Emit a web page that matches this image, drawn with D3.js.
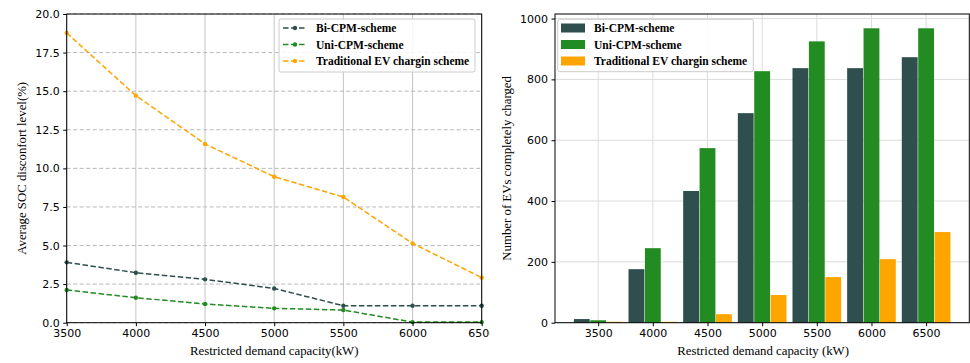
<!DOCTYPE html>
<html>
<head>
<meta charset="utf-8">
<script src="https://cdn.jsdelivr.net/npm/d3@7"></script>
<style>
  body { margin: 0; background: #fff; }
  .tick text { font-family: "DejaVu Sans", sans-serif; font-size: 11px; fill: #000; }
</style>
</head>
<body>
<svg id="chart" width="970" height="363"></svg>
<script>
// chart data
const capacities = [3500, 4000, 4500, 5000, 5500, 6000, 6500];
const seriesNames = ["Bi-CPM-scheme", "Uni-CPM-scheme", "Traditional EV chargin scheme"];
const colors = ["#2f4f4f", "#228b22", "#ffa500"];

// left: average SOC discomfort level (%)
const socBi = [3.91, 3.24, 2.81, 2.22, 1.10, 1.10, 1.10];
const socUni = [2.12, 1.62, 1.21, 0.93, 0.82, 0.04, 0.04];
const socTrad = [18.77, 14.71, 11.58, 9.46, 8.14, 5.14, 2.92];
const socTicks = [0, 2.5, 5, 7.5, 10, 12.5, 15, 17.5, 20];

// right: number of EVs completely charged
const evBi = [12, 176, 433, 689, 837, 837, 873];
const evUni = [8, 245, 574, 827, 925, 968, 968];
const evTrad = [3, 3, 28, 91, 150, 209, 298];
const evTicks = [0, 200, 400, 600, 800, 1000];

const svg = d3.select("#chart");

// ---------- left panel ----------
svg.append("clipPath").attr("id", "leftClip")
  .append("rect").attr("x", 0).attr("y", 0).attr("width", 490).attr("height", 363);

const left = svg.append("g").attr("clip-path", "url(#leftClip)");
const L = { x0: 66.7, x1: 481.7, y0: 14, y1: 322.7 };

const xL = d3.scaleLinear().domain([3500, 6500]).range([L.x0, L.x1]);
const yL = d3.scaleLinear().domain([0, 20]).range([L.y1, L.y0]);

// grid
left.append("g").selectAll("line").data(capacities).enter().append("line")
  .attr("x1", d => xL(d)).attr("x2", d => xL(d))
  .attr("y1", L.y0).attr("y2", L.y1)
  .attr("stroke", "#c4c4c4").attr("stroke-width", 1);
left.append("g").selectAll("line").data(socTicks).enter().append("line")
  .attr("x1", L.x0).attr("x2", L.x1)
  .attr("y1", d => yL(d)).attr("y2", d => yL(d))
  .attr("stroke", "#b8b8b8").attr("stroke-width", 1)
  .attr("stroke-dasharray", "4,2.5");

// lines
const socSeries = [socBi, socUni, socTrad];
const lineL = d3.line().x((d, i) => xL(capacities[i])).y(d => yL(d));
socSeries.forEach((vals, s) => {
  left.append("path").datum(vals)
    .attr("fill", "none")
    .attr("stroke", colors[s])
    .attr("stroke-width", 1.5)
    .attr("stroke-dasharray", "5.5,2.5")
    .attr("d", lineL);
  left.append("g").selectAll("circle").data(vals).enter().append("circle")
    .attr("cx", (d, i) => xL(capacities[i]))
    .attr("cy", d => yL(d))
    .attr("r", 2.2)
    .attr("fill", colors[s]);
});

// frame
left.append("rect")
  .attr("x", L.x0).attr("y", L.y0)
  .attr("width", L.x1 - L.x0).attr("height", L.y1 - L.y0)
  .attr("fill", "none").attr("stroke", "#000").attr("stroke-width", 1);

// axes
left.append("g")
  .attr("transform", `translate(0, ${L.y1})`)
  .call(d3.axisBottom(xL).tickValues(capacities).tickSize(3.5).tickPadding(3.5).tickFormat(d3.format("d")))
  .call(g => g.select(".domain").remove());
left.append("g")
  .attr("transform", `translate(${L.x0}, 0)`)
  .call(d3.axisLeft(yL).tickValues(socTicks).tickSize(3.5).tickPadding(3.5).tickFormat(d3.format(".1f")))
  .call(g => g.select(".domain").remove());

left.append("text")
  .attr("x", (L.x0 + L.x1) / 2).attr("y", 355)
  .attr("text-anchor", "middle")
  .attr("font-family", "Liberation Serif, serif").attr("font-size", "12.8px")
  .text("Restricted demand capacity(kW)");
left.append("text")
  .attr("transform", `translate(26, ${(L.y0 + L.y1) / 2}) rotate(-90)`)
  .attr("text-anchor", "middle")
  .attr("font-family", "Liberation Serif, serif").attr("font-size", "12.8px")
  .text("Average SOC disconfort level(%)");

// left legend
const legL = left.append("g");
legL.append("rect")
  .attr("x", 279).attr("y", 19).attr("width", 196).attr("height", 53).attr("rx", 2)
  .attr("fill", "#fff").attr("fill-opacity", 0.85).attr("stroke", "#cccccc");
seriesNames.forEach((name, s) => {
  const yy = 28 + s * 16.5;
  legL.append("line")
    .attr("x1", 283).attr("x2", 307).attr("y1", yy).attr("y2", yy)
    .attr("stroke", colors[s]).attr("stroke-width", 1.5).attr("stroke-dasharray", "5.5,2.5");
  legL.append("circle").attr("cx", 295).attr("cy", yy).attr("r", 2.2).attr("fill", colors[s]);
  legL.append("text")
    .attr("x", 316).attr("y", yy + 4)
    .attr("font-family", "Liberation Serif, serif").attr("font-weight", "bold").attr("font-size", "11.5px")
    .text(name);
});

// ---------- right panel ----------
const right = svg.append("g");
const R = { x0: 555, x1: 969.3, y0: 14, y1: 322.7 };

const xR = d3.scaleLinear().domain([3105, 6895]).range([R.x0, R.x1]);
const yR = d3.scaleLinear().domain([0, 1015]).range([R.y1, R.y0]);

// grid
right.append("g").selectAll("line").data(capacities).enter().append("line")
  .attr("x1", d => xR(d)).attr("x2", d => xR(d))
  .attr("y1", R.y0).attr("y2", R.y1)
  .attr("stroke", "#dcdcdc").attr("stroke-width", 1);
right.append("g").selectAll("line").data(evTicks).enter().append("line")
  .attr("x1", R.x0).attr("x2", R.x1)
  .attr("y1", d => yR(d)).attr("y2", d => yR(d))
  .attr("stroke", "#dcdcdc").attr("stroke-width", 1);

// bars
const evSeries = [evBi, evUni, evTrad];
const barW = 145;
const offsets = [-150, 0, 150];
evSeries.forEach((vals, s) => {
  right.append("g").selectAll("rect").data(vals).enter().append("rect")
    .attr("x", (d, i) => xR(capacities[i] + offsets[s] - barW / 2))
    .attr("width", (d, i) => xR(capacities[i] + offsets[s] + barW / 2) - xR(capacities[i] + offsets[s] - barW / 2))
    .attr("y", d => yR(d))
    .attr("height", d => R.y1 - yR(d))
    .attr("fill", colors[s]);
});

// frame
right.append("rect")
  .attr("x", R.x0).attr("y", R.y0)
  .attr("width", R.x1 - R.x0).attr("height", R.y1 - R.y0)
  .attr("fill", "none").attr("stroke", "#000").attr("stroke-width", 1);

// axes
right.append("g")
  .attr("transform", `translate(0, ${R.y1})`)
  .call(d3.axisBottom(xR).tickValues(capacities).tickSize(3.5).tickPadding(3.5).tickFormat(d3.format("d")))
  .call(g => g.select(".domain").remove());
right.append("g")
  .attr("transform", `translate(${R.x0}, 0)`)
  .call(d3.axisLeft(yR).tickValues(evTicks).tickSize(3.5).tickPadding(3.5).tickFormat(d3.format("d")))
  .call(g => g.select(".domain").remove());

right.append("text")
  .attr("x", (R.x0 + R.x1) / 2 + 1).attr("y", 355)
  .attr("text-anchor", "middle")
  .attr("font-family", "Liberation Serif, serif").attr("font-size", "12.8px")
  .text("Restricted demand capacity (kW)");
right.append("text")
  .attr("transform", `translate(511, ${(R.y0 + R.y1) / 2}) rotate(-90)`)
  .attr("text-anchor", "middle")
  .attr("font-family", "Liberation Serif, serif").attr("font-size", "12.8px")
  .text("Number of EVs completely charged");

// right legend
const legR = right.append("g");
legR.append("rect")
  .attr("x", 557.7).attr("y", 19.3).attr("width", 195.6).attr("height", 52.4).attr("rx", 2)
  .attr("fill", "#fff").attr("fill-opacity", 0.85).attr("stroke", "#cccccc");
seriesNames.forEach((name, s) => {
  const yy = 28 + s * 16.5;
  legR.append("rect")
    .attr("x", 561).attr("y", yy - 4.5).attr("width", 24).attr("height", 9)
    .attr("fill", colors[s]);
  legR.append("text")
    .attr("x", 594).attr("y", yy + 4)
    .attr("font-family", "Liberation Serif, serif").attr("font-weight", "bold").attr("font-size", "11.5px")
    .text(name);
});
</script>
</body>
</html>
